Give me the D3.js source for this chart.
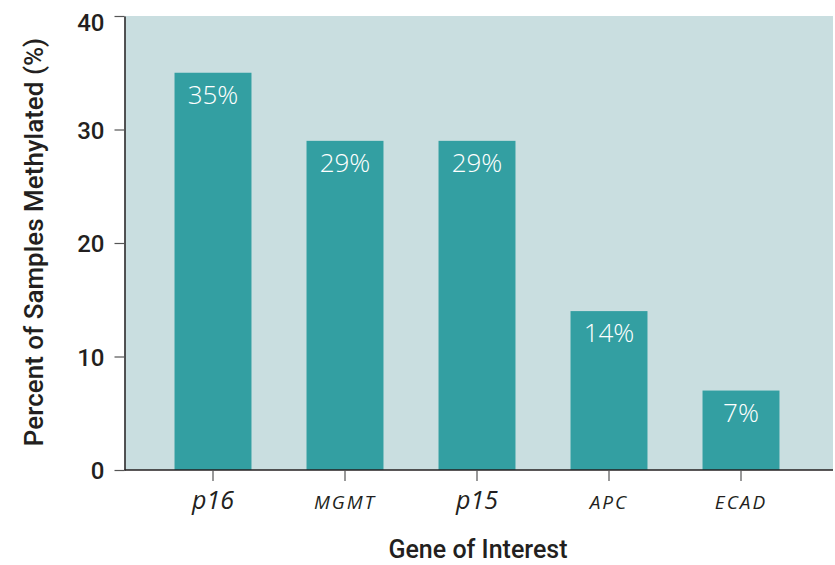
<!DOCTYPE html>
<html>
<head>
<meta charset="utf-8">
<script src="https://cdn.jsdelivr.net/npm/d3@7"></script>
<style>
  html, body { margin: 0; padding: 0; background: #ffffff; }
  svg { display: block; }
  text { font-family: "Open Sans", "Noto Sans", sans-serif; fill: #231f20; }
  .title { font-family: Roboto, "Open Sans", sans-serif; }
</style>
</head>
<body>
<svg id="chart" width="835" height="565"></svg>
<script>
// Methylation frequency by gene
const genes = ["p16", "MGMT", "p15", "APC", "ECAD"];
const percentMethylated = [35, 29, 29, 14, 7];
const valueLabels = ["35%", "29%", "29%", "14%", "7%"];
const yTicks = [0, 10, 20, 30, 40];

const svg = d3.select("#chart");
const plot = { left: 124.5, right: 833, top: 16, bottom: 470 };

const x = d3.scaleBand()
  .domain(genes)
  .range([147, 807])
  .paddingInner(0.417)
  .paddingOuter(0.2085);

const y = d3.scaleLinear()
  .domain([0, 40])
  .range([plot.bottom, plot.top]);

// plot background
svg.append("rect")
  .attr("x", plot.left)
  .attr("y", plot.top)
  .attr("width", plot.right - plot.left)
  .attr("height", plot.bottom - plot.top)
  .attr("fill", "#c9dee0");

// bars
svg.append("g").selectAll("rect")
  .data(genes)
  .join("rect")
  .attr("x", d => x(d))
  .attr("y", (d, i) => y(percentMethylated[i]))
  .attr("width", x.bandwidth())
  .attr("height", (d, i) => y(0) - y(percentMethylated[i]))
  .attr("fill", "#339fa2");

// value labels inside bars
svg.append("g").selectAll("text")
  .data(genes)
  .join("text")
  .attr("x", d => x(d) + x.bandwidth() / 2)
  .attr("y", (d, i) => y(percentMethylated[i]) + 31)
  .attr("text-anchor", "middle")
  .style("fill", "#ffffff")
  .style("font-size", "26px")
  .style("font-weight", 300)
  .text((d, i) => valueLabels[i]);

// y axis
const yAxis = svg.append("g")
  .attr("transform", `translate(${plot.left},0)`)
  .call(d3.axisLeft(y).tickValues(yTicks).tickSize(10).tickPadding(10).tickSizeOuter(0));
yAxis.select(".domain").attr("stroke", "#231f20").attr("stroke-width", 1.5);
yAxis.selectAll(".tick line").attr("stroke", "#555").attr("stroke-width", 1.2);
yAxis.selectAll(".tick text")
  .attr("class", "title")
  .style("font-size", "24px")
  .style("font-weight", 500)
  .style("fill", "#231f20")
  .attr("dy", d => d === 40 ? "0.62em" : "0.36em");

// x axis
const xAxis = svg.append("g")
  .attr("transform", `translate(0,${plot.bottom})`)
  .call(d3.axisBottom(x).tickSize(11).tickSizeOuter(0).tickFormat(() => ""));
xAxis.select(".domain")
  .attr("d", `M${plot.left},0H${plot.right}`)
  .attr("stroke", "#231f20").attr("stroke-width", 1.5);
xAxis.selectAll(".tick line").attr("stroke", "#555").attr("stroke-width", 1.2);

// category labels
svg.append("g").selectAll("text")
  .data(genes)
  .join("text")
  .attr("x", d => x(d) + x.bandwidth() / 2)
  .attr("y", 509)
  .attr("text-anchor", "middle")
  .style("font-style", "italic")
  .style("font-size", d => /^p/.test(d) ? "25px" : "19px")
  .style("letter-spacing", d => /^p/.test(d) ? "0px" : "2px")
  .text(d => d);

// axis titles
svg.append("text")
  .attr("class", "title")
  .attr("x", 478)
  .attr("y", 558)
  .attr("text-anchor", "middle")
  .style("font-size", "25px")
  .style("font-weight", 500)
  .text("Gene of Interest");

svg.append("text")
  .attr("class", "title")
  .attr("transform", "translate(43,242) rotate(-90)")
  .attr("text-anchor", "middle")
  .style("font-size", "26px")
  .style("font-weight", 500)
  .text("Percent of Samples Methylated (%)");
</script>
</body>
</html>
